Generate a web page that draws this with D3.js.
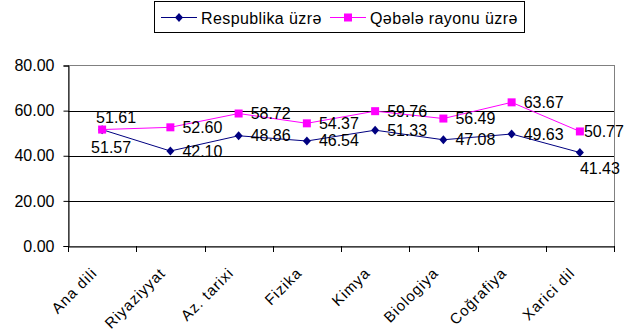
<!DOCTYPE html>
<html><head><meta charset="utf-8">
<script src="https://cdn.jsdelivr.net/npm/d3@7"></script>
<style>
html,body{margin:0;padding:0;background:#fff;}
svg{display:block;font-family:"Liberation Sans",Arial,sans-serif;}
</style></head>
<body><svg id="c" width="625" height="336"></svg>
<script>
const categories = ["Ana dili","Riyaziyyat","Az. tarixi","Fizika","Kimya","Biologiya","Coğrafiya","Xarici dil"];
const respublika = [51.57, 42.10, 48.86, 46.54, 51.33, 47.08, 49.63, 41.43];
const qebele = [51.61, 52.60, 58.72, 54.37, 59.76, 56.49, 63.67, 50.77];
const seriesNames = ["Respublika üzrə", "Qəbələ rayonu üzrə"];
const yTicks = [0, 20, 40, 60, 80];
// label placement per point
const respLabelPos = ["below","right","right","right","right","right","right","under"];
const qebLabelPos = ["above","right","right","right","right","right","right","near"];

const svg = d3.select("#c");
const L = 68, R = 614, T = 65.5, B = 246;
const x = d3.scaleBand().domain(categories).range([L, R]).padding(0);
const y = d3.scaleLinear().domain([0, 80]).range([B, T]);
const cx = d => x(d) + x.bandwidth() / 2;

// plot border (gray top & right)
svg.append("rect").attr("x", L).attr("y", y(80)).attr("width", R - L).attr("height", B - y(80))
  .attr("fill", "none").attr("stroke", "#808080").attr("shape-rendering", "crispEdges");
// gridlines
svg.append("g").selectAll("line").data(yTicks.filter(v => v > 0 && v < 80)).join("line")
  .attr("x1", L).attr("x2", R).attr("y1", d => Math.round(y(d)) + 0.5).attr("y2", d => Math.round(y(d)) + 0.5)
  .attr("stroke", "#000");

// y axis
const yAxis = svg.append("g").attr("transform", `translate(${L + 0.5},0)`)
  .call(d3.axisLeft(y).tickValues(yTicks).tickFormat(d3.format(".2f")).tickSize(5).tickPadding(9));
yAxis.select(".domain").attr("stroke", "#000");
yAxis.selectAll(".tick line").attr("stroke", "#000");
yAxis.selectAll("text").attr("font-size", 16).attr("fill", "#000")
  .attr("font-family", "'Liberation Sans', Arial, sans-serif");

// x axis
const xAxis = svg.append("g").attr("transform", `translate(0,${B + 0.5})`)
  .call(d3.axisBottom(x).tickSize(0).tickFormat(""));
xAxis.select(".domain").attr("stroke", "#000");
svg.append("g").selectAll("line").data(categories.concat([null])).join("line")
  .attr("x1", (d, i) => i < categories.length ? Math.round(x(d)) + 0.5 : R + 0.5)
  .attr("x2", (d, i) => i < categories.length ? Math.round(x(d)) + 0.5 : R + 0.5)
  .attr("y1", B).attr("y2", B + 6).attr("stroke", "#000");
svg.append("g").selectAll("text").data(categories).join("text")
  .attr("transform", d => `translate(${cx(d) - 4},${B + 28}) rotate(-45)`)
  .attr("text-anchor", "end").attr("font-size", 15).attr("letter-spacing", "1px")
  .attr("fill", "#000").text(d => d);

// lines
const line = d3.line().x((d, i) => cx(categories[i])).y(d => y(d));
svg.append("path").datum(respublika).attr("d", line).attr("fill", "none").attr("stroke", "#000080").attr("stroke-width", 1);
svg.append("path").datum(qebele).attr("d", line).attr("fill", "none").attr("stroke", "#FF00FF").attr("stroke-width", 1);

// markers
const diamond = (px, py) => `M${px},${py - 4.5}L${px + 4},${py}L${px},${py + 4.5}L${px - 4},${py}Z`;
svg.append("g").selectAll("path").data(respublika).join("path")
  .attr("d", (d, i) => diamond(cx(categories[i]), y(d))).attr("fill", "#000080");
svg.append("g").selectAll("rect").data(qebele).join("rect")
  .attr("x", (d, i) => cx(categories[i]) - 4).attr("y", d => y(d) - 4)
  .attr("width", 8).attr("height", 8).attr("fill", "#FF00FF");

// data labels
function labelAttrs(sel, vals, pos) {
  sel.data(vals).join("text")
    .attr("font-size", 16).attr("fill", "#000")
    .attr("x", (d, i) => {
      const px = cx(categories[i]);
      const p = pos[i];
      if (p === "right") return px + 12;
      if (p === "above") return px + 14;
      if (p === "below") return px + 9;
      if (p === "under") return px;
      if (p === "near") return px + 4;
    })
    .attr("text-anchor", (d, i) => (pos[i] === "above" || pos[i] === "below") ? "middle" : "start")
    .attr("y", (d, i) => {
      const py = y(d);
      const p = pos[i];
      if (p === "right" || p === "near") return py + 5.5;
      if (p === "above") return py - 7;
      if (p === "below") return py + 23;
      if (p === "under") return py + 21;
    })
    .text(d => d.toFixed(2));
}
labelAttrs(svg.append("g").selectAll("text"), respublika, respLabelPos);
labelAttrs(svg.append("g").selectAll("text"), qebele, qebLabelPos);

// legend
const lg = svg.append("g");
lg.append("rect").attr("x", 154.5).attr("y", 1.5).attr("width", 370).attr("height", 31)
  .attr("fill", "#fff").attr("stroke", "#000");
const legendColors = ["#000080", "#FF00FF"];
const legendX = [161, 330];
seriesNames.forEach((name, i) => {
  const g = lg.append("g").attr("transform", `translate(${legendX[i]},17.5)`);
  g.append("line").attr("x1", 0).attr("x2", 36).attr("y1", 0).attr("y2", 0).attr("stroke", legendColors[i]);
  if (i === 0) g.append("path").attr("d", diamond(18, 0)).attr("fill", legendColors[i]);
  else g.append("rect").attr("x", 14).attr("y", -4).attr("width", 8).attr("height", 8).attr("fill", legendColors[i]);
  g.append("text").attr("x", 40).attr("y", 6).attr("font-size", 16).attr("letter-spacing", "0.4px")
    .attr("fill", "#000").text(name);
});
</script></body></html>
